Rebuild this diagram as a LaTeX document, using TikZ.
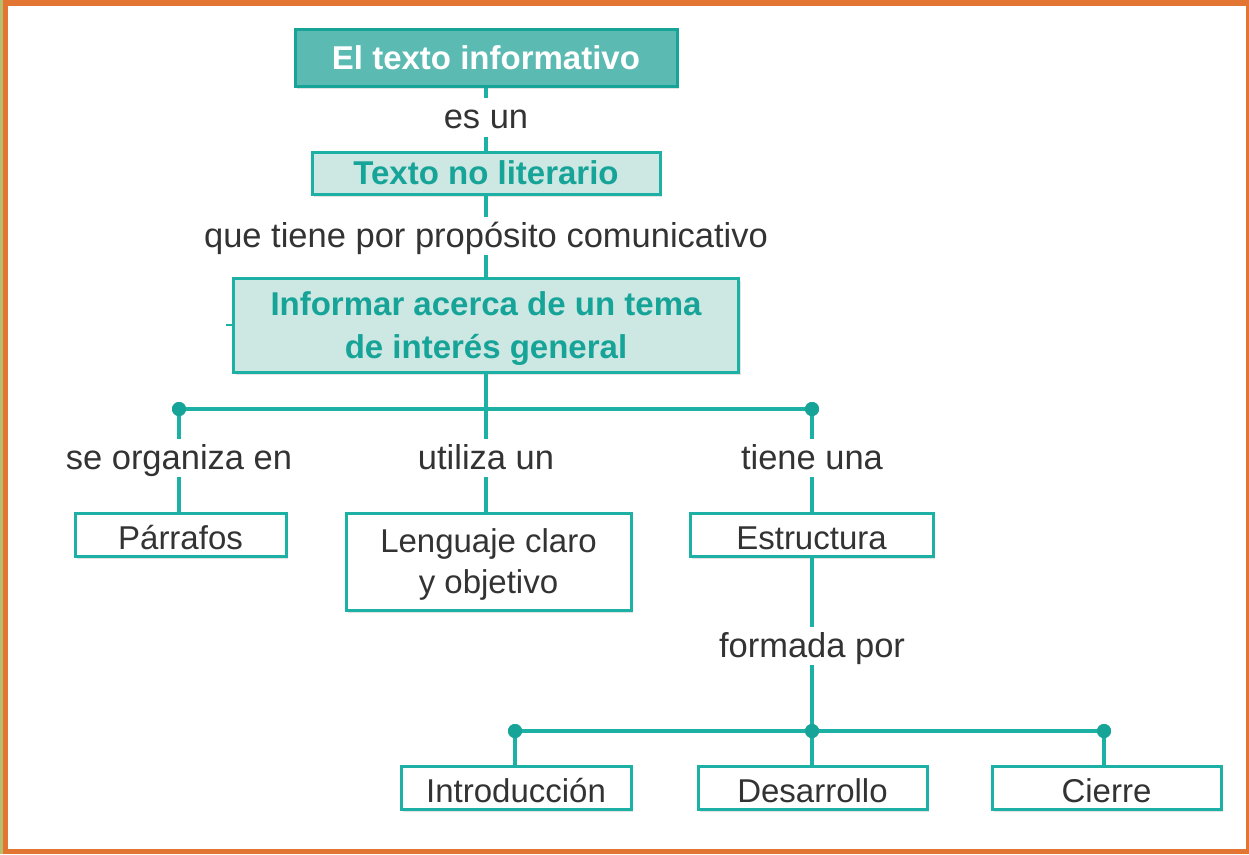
\documentclass[tikz,border=0pt]{standalone}
\usepackage{fontspec}
\setmainfont{Liberation Sans}
\usetikzlibrary{shadows}
\definecolor{orangeF}{HTML}{E37532}
\definecolor{greenF}{HTML}{B8BE6A}
\definecolor{tealL}{HTML}{1DB0A5}
\definecolor{tealT}{HTML}{17A498}
\definecolor{tealFill}{HTML}{5BBAB1}
\definecolor{paleFill}{HTML}{CDE7E3}
\definecolor{txt}{HTML}{333333}
\newcommand\strutA{\rule{0pt}{30pt}}
\begin{document}
\begin{tikzpicture}[x=1pt,y=-1pt,
  box/.style={draw=tealL, line width=3pt, inner sep=0pt, align=center,
    font=\fontsize{33}{41}\selectfont, text=txt, fill=white,
    drop shadow={opacity=0.22, shadow xshift=2pt, shadow yshift=-3pt}},
  onebox/.style={box, text height=30pt, text depth=0.5pt},
  topbox/.style={box, fill=tealFill, draw=tealT, text=white, text height=24pt, font=\fontsize{33}{41}\selectfont\bfseries},
  palebox/.style={box, fill=paleFill, text=tealT, font=\fontsize{33}{43}\selectfont\bfseries},
  lbl/.style={inner sep=0pt, minimum height=38pt, text=txt, text height=24pt, text depth=2pt,
    font=\fontsize{34.5}{41}\selectfont},
  conn/.style={draw=tealL, line width=3.4pt},
  dot/.style={circle, fill=tealT, inner sep=0pt, minimum size=14pt}]
\useasboundingbox (0,0) rectangle (1249,854);
\fill[white] (0,0) rectangle (1249,854);
% frame
\fill[greenF] (0,0) rectangle (3,854);
\fill[orangeF] (3,0) rectangle (1249,6);
\fill[orangeF] (3,0) rectangle (8,854);
\fill[orangeF] (1246,0) rectangle (1249,854);
\fill[orangeF] (3,849) rectangle (1249,854);

% boxes
\node[topbox, minimum width=382pt, minimum height=57pt] (T) at (486,57.5) {El texto informativo};
\node[palebox, text height=24pt, minimum width=348pt, minimum height=42pt] (N) at (486,173) {Texto no literario};
\node[palebox, minimum width=505pt, minimum height=94pt] (I) at (486,325) {\strutA Informar acerca de un tema\\de interés general};
\node[onebox, minimum width=211pt, minimum height=43pt] (P) at (180.5,534.5) {Párrafos};
\node[box, minimum width=285pt, minimum height=97pt] (L) at (488.5,561.5) {\strutA Lenguaje claro\\y objetivo};
\node[onebox, minimum width=243pt, minimum height=43pt] (E) at (811.5,534.5) {Estructura};
\node[onebox, minimum width=230pt, minimum height=43pt] (In) at (516,787.5) {Introducción};
\node[onebox, minimum width=229pt, minimum height=43pt] (De) at (812.5,787.5) {Desarrollo};
\node[onebox, minimum width=229pt, minimum height=43pt] (Ci) at (1106.5,787.5) {Cierre};

% labels
\node[lbl] (l1) at (486,117.5) {es un};
\node[lbl] (l2) at (486,236) {que tiene por propósito comunicativo};
\node[lbl] (lo) at (179,458) {se organiza en};
\node[lbl] (lu) at (486,458) {utiliza un};
\node[lbl] (lt) at (812,458) {tiene una};
\node[lbl] (lf) at (812,646) {formada por};

% connectors
\draw[conn] (T.south) -- (l1.north);
\draw[conn] (l1.south) -- (N.north);
\draw[conn] (N.south) -- (l2.north);
\draw[conn] (l2.south) -- (I.north);
\coordinate (tick) at (226,325);
\draw[line width=1.2pt, draw=tealL] (tick) -- (I.west);

\node[dot] (d1) at (179,409) {};
\node[dot] (d2) at (812,409) {};
\draw[conn] (d1.center) -- (d2.center);
\draw[conn] (I.south) -- (lu.north);
\draw[conn] (lu.south) -- (lu.south |- L.north);
\draw[conn] (d1.center) -- (lo.north);
\draw[conn] (lo.south) -- (lo.south |- P.north);
\draw[conn] (d2.center) -- (lt.north);
\draw[conn] (lt.south) -- (lt.south |- E.north);

\node[dot] (d3) at (515,731) {};
\node[dot] (d4) at (812,731) {};
\node[dot] (d5) at (1104,731) {};
\draw[conn] (lf.north |- E.south) -- (lf.north);
\draw[conn] (lf.south) -- (d4.center);
\draw[conn] (d3.center) -- (d5.center);
\draw[conn] (d3.center) -- (d3.center |- In.north);
\draw[conn] (d4.center) -- (d4.center |- De.north);
\draw[conn] (d5.center) -- (d5.center |- Ci.north);
\node[dot] at (d1) {};
\node[dot] at (d2) {};
\node[dot] at (d3) {};
\node[dot] at (d4) {};
\node[dot] at (d5) {};
\end{tikzpicture}
\end{document}
